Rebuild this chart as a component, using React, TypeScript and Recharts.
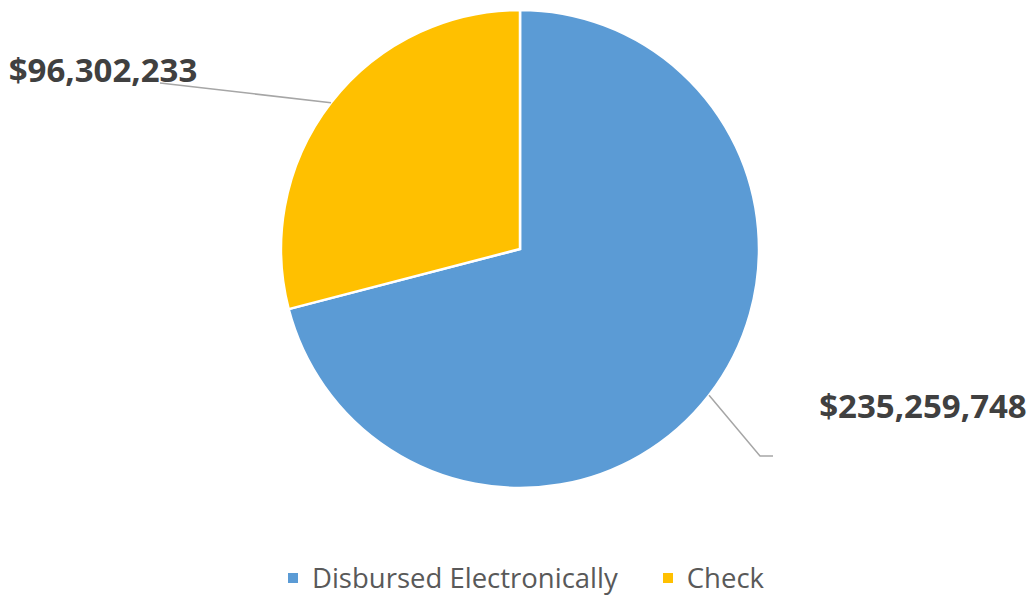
import { PieChart, Pie, Cell, Legend } from 'recharts'

const categories = ['Disbursed Electronically', 'Check']
const amounts = [235259748, 96302233]
const colors = ['#5B9BD5', '#FFC000']

const data = categories.map((name, i) => ({ name, value: amounts[i] }))

const RADIAN = Math.PI / 180

function formatMoney(v: number): string {
  return '$' + v.toLocaleString('en-US')
}

// where each label sits relative to the pie centre, and where its leader line bends
const labelLayout = [
  { elbow: [240, 207], end: [253, 207], text: [403, 169], anchor: 'middle' },
  { elbow: [-360, -166], end: [-360, -166], text: [-417, -167], anchor: 'middle' },
]

function renderLabel(props: any) {
  const { cx, cy, midAngle, outerRadius, value, index } = props
  const sx = cx + outerRadius * Math.cos(-midAngle * RADIAN)
  const sy = cy + outerRadius * Math.sin(-midAngle * RADIAN)
  const l = labelLayout[index]
  const ex = cx + l.elbow[0]
  const ey = cy + l.elbow[1]
  const fx = cx + l.end[0]
  const fy = cy + l.end[1]
  return (
    <g>
      <polyline
        points={`${sx},${sy} ${ex},${ey} ${fx},${fy}`}
        fill="none"
        stroke="#A6A6A6"
        strokeWidth={1.5}
      />
      <text
        x={cx + l.text[0]}
        y={cy + l.text[1]}
        textAnchor={l.anchor as any}
        fill="#404040"
        fontFamily="'Open Sans', sans-serif"
        fontWeight={700}
        fontSize={33}
      >
        {formatMoney(value)}
      </text>
    </g>
  )
}

function LegendContent() {
  return (
    <div style={{ display: 'flex', justifyContent: 'center', alignItems: 'center', gap: 45, paddingLeft: 20 }}>
      {categories.map((c, i) => (
        <div key={c} style={{ display: 'flex', alignItems: 'center' }}>
          <span
            style={{ display: 'inline-block', width: 10, height: 10, background: colors[i], marginRight: 14 }}
          />
          <span style={{ fontFamily: "'Open Sans', sans-serif", fontSize: 27.5, color: '#595959', lineHeight: '36px' }}>
            {c}
          </span>
        </div>
      ))}
    </div>
  )
}

export default function App() {
  return (
    <div style={{ position: 'absolute', left: 0, top: 0, width: 1032, height: 597, background: '#fff', overflow: 'hidden' }}>
      <PieChart width={1032} height={597} margin={{ top: 0, right: 0, bottom: 0, left: 0 }}>
        <Pie
          data={data}
          dataKey="value"
          nameKey="name"
          cx={520}
          cy={249}
          outerRadius={239}
          startAngle={90}
          endAngle={-270}
          stroke="#ffffff"
          strokeWidth={2.5}
          label={renderLabel}
          labelLine={false}
          isAnimationActive={false}
        >
          {data.map((d, i) => (
            <Cell key={d.name} fill={colors[i]} />
          ))}
        </Pie>
        <Legend
          content={<LegendContent />}
          wrapperStyle={{ position: 'absolute', left: 0, top: 560, width: 1032 }}
        />
      </PieChart>
    </div>
  )
}
